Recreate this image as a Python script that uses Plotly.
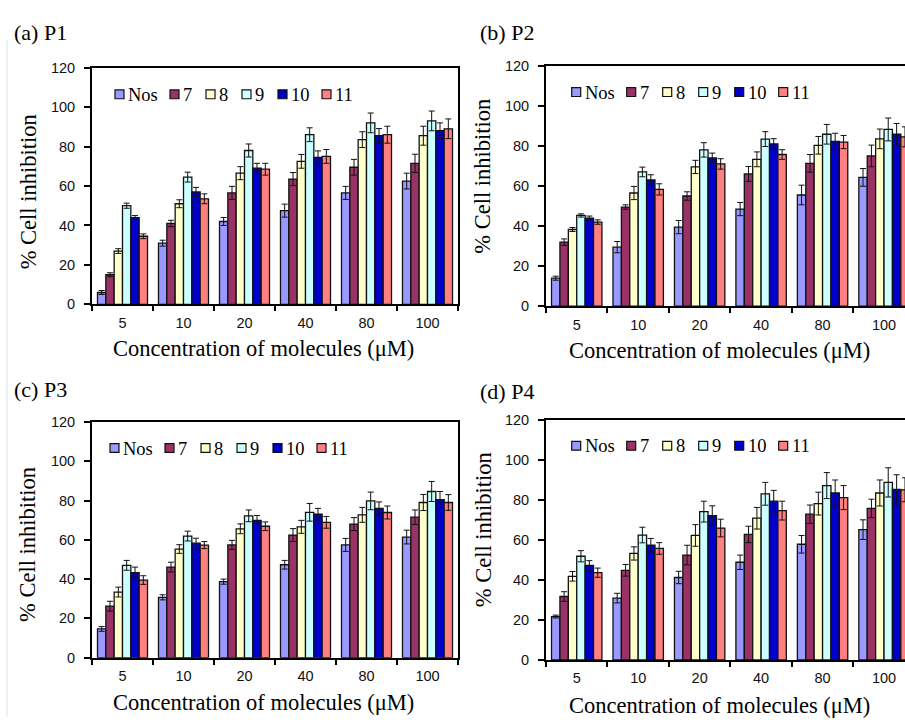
import plotly.graph_objects as go

# ---------------- data ----------------
categories = ["5", "10", "20", "40", "80", "100"]
series_names = ["Nos", "7", "8", "9", "10", "11"]
series_colors = ["#9999FF", "#993366", "#FFFFCC", "#CCFFFF", "#0000CC", "#FF8080"]
panel_labels = ["(a) P1", "(b) P2", "(c) P3", "(d) P4"]
y_ticks = [0, 20, 40, 60, 80, 100, 120]

p1_nos = [6, 31, 42, 47.5, 56.5, 62.5]
p1_nos_err = [1, 1.5, 2, 3.3, 3.3, 4]
p1_7 = [15, 41, 56.5, 63.5, 69.5, 71.5]
p1_7_err = [1, 1.6, 3.3, 3.3, 4, 4.6]
p1_8 = [27, 51, 66.5, 72.5, 83.5, 85.5]
p1_8_err = [1.2, 2, 3.3, 3.5, 4, 4.8]
p1_9 = [50, 64.5, 78, 86, 92, 93]
p1_9_err = [1.3, 2.5, 3.3, 3.5, 5, 5]
p1_10 = [44, 57, 69, 74.5, 85.5, 88]
p1_10_err = [1, 2.3, 2.5, 3.3, 3.6, 4]
p1_11 = [34.5, 53.5, 68.5, 75, 86, 89]
p1_11_err = [1.2, 2.5, 3, 3.5, 4.3, 5]

p2_nos = [14, 29.5, 39.5, 48.5, 55.5, 64.3]
p2_nos_err = [1, 2.8, 3.3, 3.3, 4.9, 4.4]
p2_7 = [32, 49.5, 55, 66, 71.3, 75]
p2_7_err = [1.6, 1.1, 2.1, 3.7, 4.4, 5.4]
p2_8 = [38.3, 56.5, 69.5, 73.3, 80.3, 83.5]
p2_8_err = [1, 3.3, 3.3, 3.7, 4.4, 4.9]
p2_9 = [45.3, 67, 78, 83.4, 85.8, 88.2]
p2_9_err = [0.8, 2.4, 3.6, 3.7, 4.9, 5.7]
p2_10 = [44, 63, 74, 81, 82.2, 85.8]
p2_10_err = [1, 2.6, 2.4, 2.6, 4.1, 5.4]
p2_11 = [42, 58.3, 71, 75.7, 81.9, 84.5]
p2_11_err = [1.1, 2.8, 2.6, 2.4, 3.3, 5]

p3_nos = [14.6, 30.7, 38.7, 47.3, 57.4, 61.4]
p3_nos_err = [1.2, 1.3, 1.3, 2.2, 3.3, 3.5]
p3_7 = [26.2, 46.1, 57.4, 62.4, 68, 71.5]
p3_7_err = [2.5, 2.5, 2.3, 3.3, 3.3, 3.7]
p3_8 = [33.4, 55.3, 65.6, 66.6, 72.7, 79]
p3_8_err = [2.5, 2.2, 2.5, 3.3, 3.8, 4.1]
p3_9 = [47, 61.9, 72.2, 74, 79.8, 84.6]
p3_9_err = [2.5, 2.5, 3, 4.5, 4.5, 5.1]
p3_10 = [43.3, 58.3, 69.9, 73, 76, 80.5]
p3_10_err = [2.8, 2.5, 2.5, 3, 3.3, 4.1]
p3_11 = [39.5, 57.3, 66.9, 68.9, 73.9, 79]
p3_11_err = [2.2, 1.8, 2.2, 3, 3.3, 4]

p4_nos = [21.7, 30.9, 41.2, 48.8, 57.8, 65.1]
p4_nos_err = [0.7, 2.4, 3.1, 3.6, 4.4, 4.9]
p4_7 = [31.7, 44.8, 52.4, 62.7, 72.8, 75.7]
p4_7_err = [2.4, 2.9, 4.9, 4.1, 4.6, 4.6]
p4_8 = [41.8, 53.2, 62.2, 70.8, 78.1, 83.4]
p4_8_err = [2.4, 3.3, 5.4, 5.4, 5.7, 6.5]
p4_9 = [51.8, 62.4, 74.1, 83, 87.1, 88.7]
p4_9_err = [2.8, 3.9, 5.2, 5.7, 6.5, 7.3]
p4_10 = [47.2, 57.3, 72.1, 79.3, 83.4, 85.2]
p4_10_err = [2.4, 3.4, 4.9, 5.4, 6.5, 7.3]
p4_11 = [43.6, 55.7, 65.9, 74.6, 81.1, 85]
p4_11_err = [2.3, 2.9, 4.4, 4.7, 6, 6]

panels_values = [
    [p1_nos, p1_7, p1_8, p1_9, p1_10, p1_11],
    [p2_nos, p2_7, p2_8, p2_9, p2_10, p2_11],
    [p3_nos, p3_7, p3_8, p3_9, p3_10, p3_11],
    [p4_nos, p4_7, p4_8, p4_9, p4_10, p4_11],
]
panels_errors = [
    [p1_nos_err, p1_7_err, p1_8_err, p1_9_err, p1_10_err, p1_11_err],
    [p2_nos_err, p2_7_err, p2_8_err, p2_9_err, p2_10_err, p2_11_err],
    [p3_nos_err, p3_7_err, p3_8_err, p3_9_err, p3_10_err, p3_11_err],
    [p4_nos_err, p4_7_err, p4_8_err, p4_9_err, p4_10_err, p4_11_err],
]

# ---------------- layout geometry (pixels) ----------------
W, H = 905, 725
SERIF = "Liberation Serif"
SANS = "Liberation Sans"


def px(x):
    return x / W


def py(y):
    return 1 - y / H


# plot areas: left, right, top, bottom, clipped-right?
boxes = [
    (92, 458, 61, 303, False),
    (546, 905, 59, 305, True),
    (92, 458, 423.3, 664.3, False),
    (546, 905, 421, 666.7, True),
]
x_titles = [(263.5, 348), (719, 350), (263.5, 710), (719, 713)]
y_titles = [(28, 188.5), (483, 172.5), (28, 549), (483, 534)]
labels_pos = [(12, 25), (478, 25), (12, 390), (478, 391.7)]
legend_pos = [(115, 88.3), (571.7, 86), (110, 450), (571.7, 447.7)]
legend_offsets = [0, 55, 91, 127, 163, 207]

fig = go.Figure()
layout = dict(
    width=W, height=H,
    margin=dict(l=0, r=0, t=0, b=0),
    paper_bgcolor="white", plot_bgcolor="white",
    showlegend=False,
    barmode="group", bargap=0.18, bargroupgap=0,
    font=dict(family=SANS, color="#000"),
)
annotations = []
shapes = []

for i in range(4):
    left, right, top, bottom, clipped = boxes[i]
    xa = "x" if i == 0 else f"x{i+1}"
    ya = "y" if i == 0 else f"y{i+1}"
    for s in range(6):
        fig.add_trace(go.Bar(
            x=categories, y=panels_values[i][s], name=series_names[s],
            xaxis=xa, yaxis=ya,
            marker=dict(color=series_colors[s], line=dict(color="#111", width=1.3)),
            error_y=dict(type="data", array=panels_errors[i][s], symmetric=True,
                         color="#111", thickness=1, width=3),
        ))
    if clipped:
        cat_w = 61.46
        xrange = [-0.5, -0.5 + (right - left) / cat_w]
    else:
        xrange = [-0.5, 5.5]
    layout["xaxis" if i == 0 else f"xaxis{i+1}"] = dict(
        domain=[px(left), px(right)], anchor=ya, type="category",
        range=xrange, tickson="boundaries", ticks="outside", ticklen=5,
        tickwidth=1.5, tickcolor="#000", showline=True, linecolor="#000",
        linewidth=2, mirror=True, showgrid=False, zeroline=False,
        tickfont=dict(family=SANS, size=14.5, color="#111"),
        ticklabelstandoff=4,
    )
    layout["yaxis" if i == 0 else f"yaxis{i+1}"] = dict(
        domain=[py(bottom), py(top)], anchor=xa, range=[0, 120],
        tickvals=y_ticks, ticks="outside", ticklen=6, tickwidth=1.5,
        tickcolor="#000", showline=True, linecolor="#000", linewidth=2,
        mirror=(not clipped), showgrid=False, zeroline=False,
        tickfont=dict(family=SANS, size=14.5, color="#111"),
        ticklabelstandoff=6,
    )
    # axis titles
    annotations.append(dict(
        text="Concentration of molecules (μM)", x=px(x_titles[i][0]), y=py(x_titles[i][1]),
        xref="paper", yref="paper", xanchor="center", yanchor="middle", showarrow=False,
        font=dict(family=SERIF, size=22.5, color="#000"),
    ))
    annotations.append(dict(
        text="% Cell inhibition", x=px(y_titles[i][0]), y=py(y_titles[i][1]),
        xref="paper", yref="paper", xanchor="center", yanchor="middle", showarrow=False,
        textangle=-90, font=dict(family=SERIF, size=22.5, color="#000"),
    ))
    annotations.append(dict(
        text=panel_labels[i], x=px(labels_pos[i][0]), y=py(labels_pos[i][1]),
        xref="paper", yref="paper", xanchor="left", yanchor="middle", showarrow=False,
        font=dict(family=SERIF, size=22, color="#000"),
    ))
    # legend
    lx, ly = legend_pos[i]
    for s in range(6):
        sx = lx + legend_offsets[s]
        shapes.append(dict(
            type="rect", xref="paper", yref="paper",
            x0=px(sx), x1=px(sx + 9), y0=py(ly + 4.5), y1=py(ly - 4.5),
            fillcolor=series_colors[s], line=dict(color="#111", width=1.2),
        ))
        annotations.append(dict(
            text=series_names[s], x=px(sx + 11), y=py(ly + 0.5),
            xref="paper", yref="paper", xanchor="left", yanchor="middle", showarrow=False,
            font=dict(family=SERIF, size=18.5, color="#000"),
        ))

# faint page edge line at left
shapes.append(dict(type="line", xref="paper", yref="paper", x0=px(7), x1=px(7),
                   y0=py(33), y1=py(725), line=dict(color="#dde2e8", width=1)))

layout["annotations"] = annotations
layout["shapes"] = shapes
fig.update_layout(**layout)
fig.write_html(
    "out.html",
    config={"displayModeBar": False},
    post_script="document.body.style.margin='0';document.body.style.overflow='hidden';",
)
